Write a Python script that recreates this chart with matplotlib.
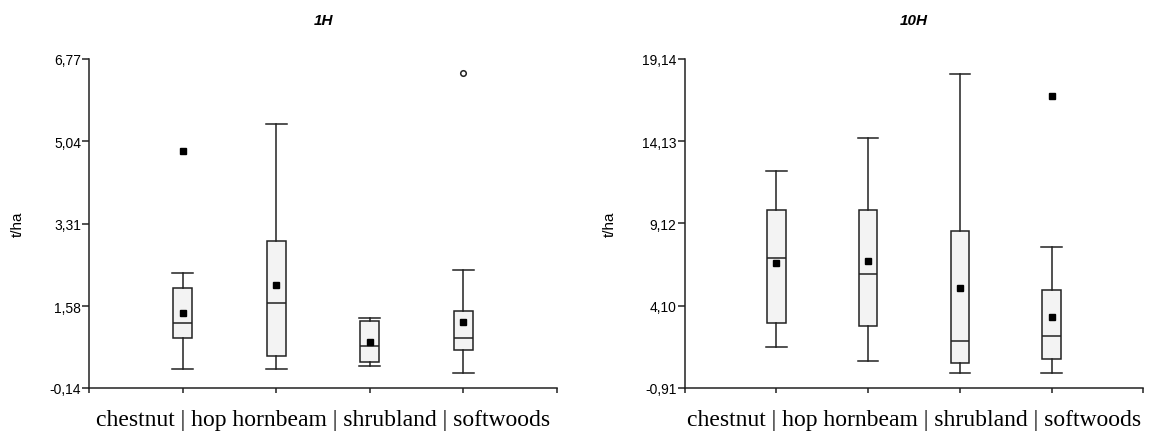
import matplotlib
matplotlib.use("Agg")
import matplotlib.pyplot as plt

categories = ["chestnut", "hop hornbeam", "shrubland", "softwoods"]

# 1H panel
h1_whislo = [0.26, 0.26, 0.32, 0.17]
h1_q1 = [0.90, 0.54, 0.40, 0.65]
h1_med = [1.22, 1.65, 0.75, 0.90]
h1_q3 = [1.95, 2.94, 1.27, 1.48]
h1_whishi = [2.27, 5.40, 1.34, 2.33]
h1_mean = [1.44, 2.02, 0.82, 1.25]
h1_mild_out = [[], [], [], [6.48]]
h1_far_out = [[4.84], [], [], []]
h1_ticks = [-0.14, 1.58, 3.31, 5.04, 6.77]
h1_ticklabels = ["-0,14", "1,58", "3,31", "5,04", "6,77"]

# 10H panel
h10_whislo = [1.61, 0.72, 0.00, 0.00]
h10_q1 = [3.03, 2.87, 0.61, 0.86]
h10_med = [7.02, 6.05, 1.93, 2.24]
h10_q3 = [9.91, 9.91, 8.63, 5.07]
h10_whishi = [12.30, 14.35, 18.20, 7.67]
h10_mean = [6.70, 6.80, 5.20, 3.41]
h10_mild_out = [[], [], [], []]
h10_far_out = [[], [], [], [16.91]]
h10_ticks = [-0.91, 4.10, 9.12, 14.13, 19.14]
h10_ticklabels = ["-0,91", "4,10", "9,12", "14,13", "19,14"]

titles = ["1H", "10H"]
ylabel = "t/ha"
xlabel = " | ".join(categories)

W, H = 1165, 435
fig = plt.figure(figsize=(W / 100, H / 100), dpi=100)
ax1 = fig.add_axes([89.3 / W, 1 - 389 / H, (556.7 - 89.3) / W, (389 - 60) / H])
ax2 = fig.add_axes([684.7 / W, 1 - 389 / H, (1143.3 - 684.7) / W, (389 - 60) / H])

lc = "#222222"
panels = [
    (ax1, h1_whislo, h1_q1, h1_med, h1_q3, h1_whishi, h1_mean, h1_mild_out, h1_far_out, h1_ticks, h1_ticklabels, titles[0]),
    (ax2, h10_whislo, h10_q1, h10_med, h10_q3, h10_whishi, h10_mean, h10_mild_out, h10_far_out, h10_ticks, h10_ticklabels, titles[1]),
]

for ax, wlo, q1, med, q3, whi, mean, mild, far, ticks, tlabels, title in panels:
    stats = []
    for i in range(len(categories)):
        stats.append(dict(label=categories[i], whislo=wlo[i], q1=q1[i], med=med[i],
                          q3=q3[i], whishi=whi[i], mean=mean[i], fliers=[]))
    pos = list(range(1, len(categories) + 1))
    ax.bxp(stats, positions=pos, widths=0.2, patch_artist=True, showmeans=True,
           showfliers=False,
           boxprops=dict(facecolor="#f3f3f3", edgecolor=lc, linewidth=1.1),
           medianprops=dict(color=lc, linewidth=1.1),
           whiskerprops=dict(color=lc, linewidth=1.1),
           capprops=dict(color=lc, linewidth=1.1),
           capwidths=0.22,
           meanprops=dict(marker="s", markerfacecolor="black", markeredgecolor="black",
                          markersize=5))
    for i, p in enumerate(pos):
        if mild[i]:
            ax.plot([p] * len(mild[i]), mild[i], linestyle="none", marker="o",
                    markerfacecolor="white", markeredgecolor=lc, markersize=4,
                    markeredgewidth=1.1)
        if far[i]:
            ax.plot([p] * len(far[i]), far[i], linestyle="none", marker="s",
                    markerfacecolor="black", markeredgecolor="black", markersize=5)
    ax.set_xlim(0, len(categories) + 1)
    ax.set_ylim(ticks[0], ticks[-1])
    ax.set_yticks(ticks)
    ax.set_yticklabels(tlabels, fontsize=10, family="Liberation Sans")
    ax.set_xticks(range(0, len(categories) + 2))
    ax.set_xticklabels([])
    ax.spines["top"].set_visible(False)
    ax.spines["right"].set_visible(False)
    for s in ["left", "bottom"]:
        ax.spines[s].set_color(lc)
        ax.spines[s].set_linewidth(1.1)
    ax.tick_params(axis="y", direction="out", length=5, width=1.1, color=lc, pad=1)
    ax.tick_params(axis="x", direction="out", length=3.5, width=1.1, color=lc)
    ax.set_ylabel(ylabel, fontsize=11, family="Liberation Sans", labelpad=18)
    ax.set_xlabel(xlabel, fontsize=17, family="Liberation Serif", labelpad=8)
    ax.set_title(title, fontsize=11, family="Liberation Sans", fontweight="bold",
                 fontstyle="italic", pad=25)

fig.savefig("out.png", dpi=100)
